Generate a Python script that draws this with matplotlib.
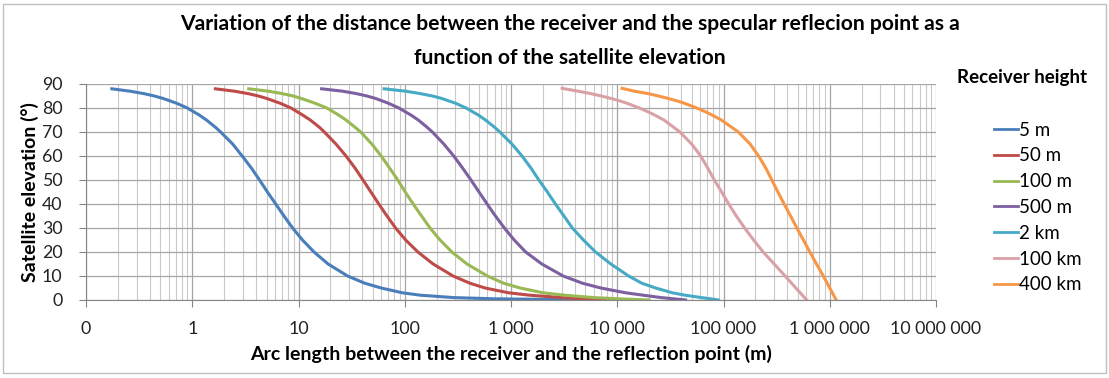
import matplotlib
matplotlib.use('Agg')
import matplotlib.pyplot as plt
from matplotlib.patches import Rectangle
from matplotlib.ticker import FixedLocator, LogLocator, NullFormatter

plt.rcParams['font.family'] = ['Lato', 'DejaVu Sans']

# Data (distance in m, elevation in degrees)
elev_low = [88, 87, 86, 85, 84, 82, 80, 77, 75, 72, 70, 65, 60, 55, 50, 45, 40, 35, 30, 25, 20, 15, 10, 7, 5, 3, 2, 1, 0.5, 0]
dist_5m = [0.175, 0.26, 0.35, 0.44, 0.53, 0.71, 0.90, 1.17, 1.36, 1.65, 1.85, 2.4, 2.95, 3.6, 4.3, 5.1, 6.1, 7.3, 8.8, 10.9, 14, 19, 29, 42, 60, 95, 140, 290, 700, 7000]
dist_50m = [1.65, 2.5, 3.35, 4.2, 5.0, 6.7, 8.5, 11, 12.9, 15.7, 17.5, 22.5, 28, 34, 40.5, 48, 57, 68, 82, 102, 133, 185, 285, 410, 570, 950, 1500, 3000, 5000, 10000]
dist_100m = [3.4, 5.2, 7.0, 8.9, 10.6, 14.3, 18.5, 24, 28, 34, 38.5, 49, 60, 72, 86, 101, 120, 144, 173, 215, 278, 385, 600, 850, 1220, 2000, 3200, 6000, 10300, 20000]
dist_500m = [16.5, 26, 35, 44, 53, 70, 88, 115, 134, 162, 182, 233, 289, 350, 420, 500, 596, 714, 866, 1072, 1374, 1950, 3100, 4700, 7000, 12000, 17500, 26000, 34000, 44000]
dist_2km = [64, 102, 140, 182, 222, 300, 378, 495, 575, 700, 785, 1020, 1270, 1540, 1830, 2200, 2620, 3150, 3780, 4800, 6250, 8700, 12800, 17000, 23000, 33000, 43600, 62000, 75000, 89600]

elev_high = [88.2, 87, 86, 85, 84, 83, 82, 80, 78, 77, 75, 70, 65, 60, 55, 50, 45, 40, 35, 30, 25, 20, 15, 10, 5, 0]
dist_100km = [3030, 4270, 5620, 7080, 8710, 10500, 12300, 16200, 20400, 22600, 27500, 38900, 50100, 61000, 71000, 82000, 96000, 112000, 132000, 158000, 192000, 236000, 300000, 380000, 480000, 607000]
dist_400km = [11100, 14500, 19500, 24500, 30000, 36300, 42700, 56000, 71000, 78500, 95500, 138000, 178000, 214000, 250000, 285000, 325000, 372000, 428000, 490000, 565000, 650000, 750000, 870000, 1000000, 1150000]

series_labels = ['5 m', '50 m', '100 m', '500 m', '2 km', '100 km', '400 km']
series_colors = ['#4A7EBB', '#BE4B48', '#98B954', '#7D60A0', '#46AAC5', '#D9A1A6', '#F79646']

x_ticks = [0.1, 1, 10, 100, 1000, 10000, 100000, 1000000, 10000000]
x_tick_labels = ['0', '1', '10', '100', '1 000', '10 000', '100 000', '1 000 000', '10 000 000']
y_ticks = [0, 10, 20, 30, 40, 50, 60, 70, 80, 90]

series = [(dist_5m, elev_low), (dist_50m, elev_low), (dist_100m, elev_low),
          (dist_500m, elev_low), (dist_2km, elev_low), (dist_100km, elev_high),
          (dist_400km, elev_high)]

fig = plt.figure(figsize=(11.09, 3.78), dpi=100)
ax = fig.add_axes([86 / 1109, 1 - 300 / 378, (936 - 86) / 1109, (300 - 84) / 378])

for (d, e), lab, col in zip(series, series_labels, series_colors):
    ax.plot(d, e, color=col, lw=2.2, label=lab, solid_joinstyle='round')

ax.set_xscale('log')
ax.set_xlim(0.1, 1e7)
ax.set_ylim(0, 90)
ax.xaxis.set_major_locator(FixedLocator(x_ticks))
ax.set_xticklabels(x_tick_labels)
ax.xaxis.set_minor_locator(LogLocator(base=10, subs=range(2, 10), numticks=20))
ax.xaxis.set_minor_formatter(NullFormatter())
ax.set_yticks(y_ticks)

ax.grid(which='major', axis='both', color='#A6A6A6', lw=0.9)
ax.grid(which='minor', axis='x', color='#C9C9C9', lw=0.8)
ax.set_axisbelow(True)
for s in ['top', 'right']:
    ax.spines[s].set_visible(False)
for s in ['left', 'bottom']:
    ax.spines[s].set_color('#868686')
ax.tick_params(axis='both', which='major', color='#868686', length=5, labelsize=12.8, colors='#222222')
ax.tick_params(axis='x', pad=10)
ax.tick_params(axis='y', pad=12)
ax.tick_params(axis='x', which='minor', length=0)

ax.set_xlabel('Arc length between the receiver and the reflection point (m)', fontsize=14, fontweight='bold', labelpad=6)
ax.set_ylabel('Satellite elevation (°)', fontsize=14, fontweight='bold', labelpad=2)

fig.text(570 / 1109, 1 - 41 / 378,
         'Variation of the distance between the receiver and the specular reflecion point as a\nfunction of the satellite elevation',
         ha='center', va='center', fontsize=15.2, fontweight='bold', linespacing=1.85)

fig.text(1022 / 1109, 1 - 78 / 378, 'Receiver height', ha='center', va='center', fontsize=13.5, fontweight='bold')
leg = fig.legend(loc='upper left', bbox_to_anchor=(986 / 1109, 1 - 114 / 378), frameon=False,
                 fontsize=13.5, handlelength=1.3, handletextpad=0.08, labelspacing=0.47, borderaxespad=0)
for line in leg.get_lines():
    line.set_linewidth(2)

fig.patches.append(Rectangle((0.003, 0.012), 0.994, 0.978, transform=fig.transFigure,
                             fill=False, edgecolor='#BFBFBF', lw=1))

fig.savefig('out.png', dpi=100)
